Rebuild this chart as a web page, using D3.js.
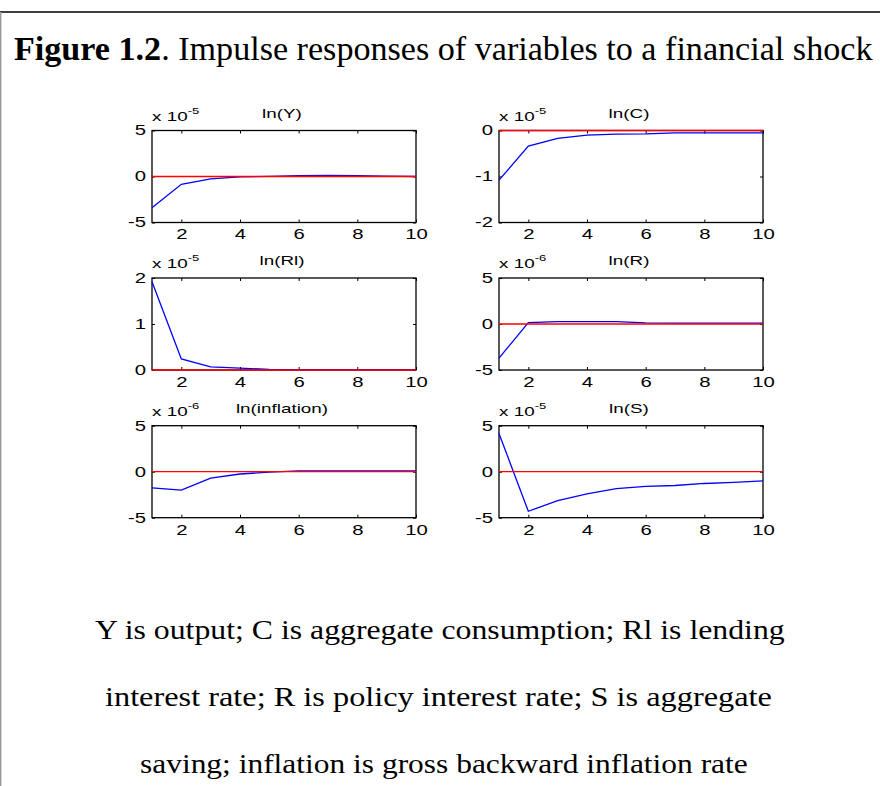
<!DOCTYPE html>
<html>
<head>
<meta charset="UTF-8">
<title>Figure 1.2 Impulse responses</title>
<style>
    body { margin: 0; background: white; }
    svg { display: block; }
    .tick text, .lbl { font-family: "Liberation Sans", Arial, sans-serif; fill: black; }
    .serif { font-family: "Liberation Serif", "Times New Roman", serif; fill: black; }
</style>
</head>
<body>
<script src="https://d3js.org/d3.v7.min.js"></script>
<script>
// horizons 1..10
var periods = [1, 2, 3, 4, 5, 6, 7, 8, 9, 10];
var xTicks = [2, 4, 6, 8, 10];

// responses (in units of the panel exponent)
var lnY    = [-3.4, -0.85, -0.25, -0.05, 0.02, 0.1, 0.12, 0.1, 0.03, 0.0];
var lnC    = [-1.08, -0.34, -0.17, -0.1, -0.08, -0.075, -0.05, -0.05, -0.05, -0.05];
var lnRl   = [1.92, 0.24, 0.07, 0.04, 0.015, 0.01, 0.01, 0.01, 0.01, 0.01];
var lnR    = [-3.7, 0.15, 0.25, 0.25, 0.25, 0.12, 0.1, 0.1, 0.1, 0.1];
var lnInfl = [-1.75, -2.0, -0.7, -0.25, -0.05, 0.08, 0.1, 0.1, 0.1, 0.1];
var lnS    = [4.15, -4.3, -3.15, -2.4, -1.85, -1.6, -1.5, -1.28, -1.15, -1.0];

var panelTitles = ["ln(Y)", "ln(C)", "ln(Rl)", "ln(R)", "ln(inflation)", "ln(S)"];
var panelSeries = [lnY, lnC, lnRl, lnR, lnInfl, lnS];
var panelExp = ["-5", "-5", "-5", "-6", "-6", "-5"];
var panelDomains = [[-5, 5], [-2, 0], [0, 2], [-5, 5], [-5, 5], [-5, 5]];
var panelYTicks = [[-5, 0, 5], [-2, -1, 0], [0, 1, 2], [-5, 0, 5], [-5, 0, 5], [-5, 0, 5]];

var figTitleBold = "Figure 1.2";
var figTitleRest = ". Impulse responses of variables to a financial shock";
var captionLines = [
    "Y is output; C is aggregate consumption; Rl is lending",
    "interest rate; R is policy interest rate; S is aggregate",
    "saving; inflation is gross backward inflation rate"
];

var W = 880, H = 786;
var svg = d3.select("body").append("svg").attr("width", W).attr("height", H);

// frame
svg.append("line").attr("x1", 0).attr("x2", W).attr("y1", 12).attr("y2", 12)
    .attr("stroke", "black").attr("stroke-width", 1.6);
svg.append("line").attr("x1", 0.7).attr("x2", 0.7).attr("y1", 12).attr("y2", H)
    .attr("stroke", "#999").attr("stroke-width", 1.4);

// squeeze/stretch a text so it spans [x0, x0+w]
function fitText(t, x0, y, w) {
    t.attr("x", 0).attr("y", 0);
    var len = t.node().getComputedTextLength();
    t.attr("transform", "translate(" + x0 + "," + y + ") scale(" + (w / len) + ",1)");
}

var title = svg.append("text").attr("class", "serif").style("font-size", "33px");
title.append("tspan").style("font-weight", "bold").text(figTitleBold);
title.append("tspan").text(figTitleRest);
fitText(title, 14, 60, 859);

var capStarts = [95, 105, 140], capWidths = [690, 667, 608], capBase = [639, 706, 773];
captionLines.forEach(function (s, i) {
    var t = svg.append("text").attr("class", "serif").style("font-size", "28px").text(s);
    fitText(t, capStarts[i], capBase[i], capWidths[i]);
});

// panel geometry
var colX = [152, 499], rowY = [130.5, 278, 425.7];
var pw = 264, ph = 92;
var sx = 1.45; // horizontal stretch of the plot lettering
var fmt = function (d) { return String(d); };

var x = d3.scaleLinear().domain([1, 10]).range([0, pw]);

panelTitles.forEach(function (name, i) {
    var col = i % 2, row = Math.floor(i / 2);
    var g = svg.append("g").attr("transform", "translate(" + colX[col] + "," + rowY[row] + ")");
    var y = d3.scaleLinear().domain(panelDomains[i]).range([ph, 0]);

    g.append("rect").attr("width", pw).attr("height", ph)
        .attr("fill", "white").attr("stroke", "black").attr("stroke-width", 1.3);

    var bottom = g.append("g").attr("transform", "translate(0," + ph + ")")
        .call(d3.axisBottom(x).tickValues(xTicks).tickFormat(fmt).tickSizeInner(-3).tickSizeOuter(0).tickPadding(7));
    bottom.selectAll("text").attr("transform", "scale(" + sx + ",1)").style("font-size", "14px");

    g.append("g").call(d3.axisTop(x).tickValues(xTicks).tickSizeInner(-3).tickSizeOuter(0).tickFormat(""));

    var left = g.append("g")
        .call(d3.axisLeft(y).tickValues(panelYTicks[i]).tickFormat(fmt).tickSizeInner(-3).tickSizeOuter(0).tickPadding(6));
    left.selectAll("text").attr("x", -6 / sx).attr("transform", "scale(" + sx + ",1)").style("font-size", "14px");

    g.append("g").attr("transform", "translate(" + pw + ",0)")
        .call(d3.axisRight(y).tickValues(panelYTicks[i]).tickSizeInner(-3).tickSizeOuter(0).tickFormat(""));

    g.selectAll(".domain").remove();
    g.selectAll(".tick line").attr("stroke", "black").attr("stroke-width", 1);

    var line = d3.line().x(function (d, k) { return x(periods[k]); }).y(function (d) { return y(d); });
    g.append("path").datum(panelSeries[i]).attr("d", line)
        .attr("fill", "none").attr("stroke", "#0000ff").attr("stroke-width", 1.3);
    g.append("path").datum(periods.map(function () { return 0; })).attr("d", line)
        .attr("fill", "none").attr("stroke", "#ff0000").attr("stroke-width", 1.3);

    // exponent label
    var ex = g.append("text").attr("class", "lbl").style("font-size", "13px")
        .attr("transform", "translate(0,-10) scale(" + sx + ",1)");
    ex.append("tspan").text("x 10");
    ex.append("tspan").attr("dy", -7).style("font-size", "9px").text(panelExp[i]);

    g.append("text").attr("class", "lbl").style("font-size", "13px")
        .attr("text-anchor", "middle")
        .attr("transform", "translate(" + (pw / 2 - 2) + ",-13) scale(" + sx + ",1)")
        .text(name);
});
</script>
</body>
</html>
